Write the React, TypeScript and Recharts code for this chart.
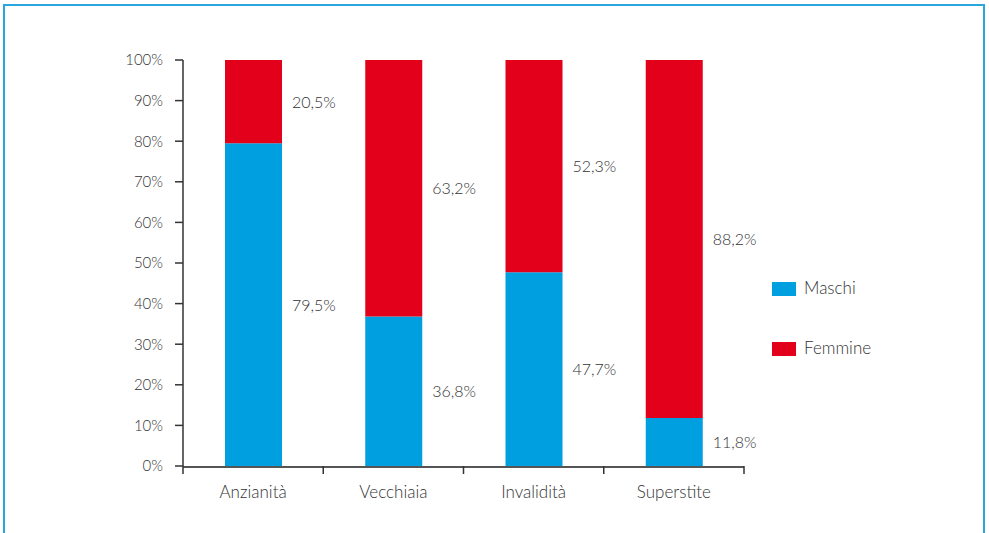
import React from "react";
import { BarChart, Bar, XAxis, YAxis, LabelList } from "recharts";

const categories = ["Anzianità", "Vecchiaia", "Invalidità", "Superstite"];
const maschi = [79.5, 36.8, 47.7, 11.8];
const femmine = [20.5, 63.2, 52.3, 88.2];
const yTicks = [0, 10, 20, 30, 40, 50, 60, 70, 80, 90, 100];
const bandEdges = [0, 1, 2, 3, 4];

const BLUE = "#009fe0";
const RED = "#e2001a";
const TEXT = "#333333";
const FONT = "Lato, 'Open Sans', sans-serif";
const WEIGHT = 300;

const data = categories.map((name, i) => ({
  name,
  idx: i + 0.5,
  maschi: maschi[i],
  femmine: femmine[i],
}));

const fmt = (v: number) => v.toFixed(1).replace(".", ",") + "%";

const SideLabel = (props: any) => {
  const { x, y, width, height, value } = props;
  return (
    <text
      x={x + width + 10}
      y={y + height / 2 + 6}
      fill={TEXT}
      fontSize={16}
      fontWeight={WEIGHT}
      fontFamily={FONT}
    >
      {fmt(value)}
    </text>
  );
};

const LegendBox = () => (
  <div style={{ fontFamily: FONT, fontSize: 17, fontWeight: WEIGHT, color: TEXT }}>
    {[
      { name: "Maschi", color: BLUE },
      { name: "Femmine", color: RED },
    ].map((it) => (
      <div key={it.name} style={{ display: "flex", alignItems: "center", height: 60 }}>
        <span style={{ width: 24, height: 14, background: it.color, display: "inline-block", marginRight: 8, marginTop: 3 }} />
        {it.name}
      </div>
    ))}
  </div>
);

export default function App() {
  return (
    <div style={{ position: "absolute", left: 0, top: 0, width: 989, height: 533, overflow: "hidden", background: "#fff" }}>
      <div
        style={{
          position: "absolute",
          left: 3,
          top: 4,
          width: 982,
          height: 600,
          border: "2px solid #2aa6de",
          boxSizing: "border-box",
        }}
      />
      <div style={{ position: "absolute", left: 772, top: 257 }}>
        <LegendBox />
      </div>
      <BarChart
        width={989}
        height={533}
        data={data}
        margin={{ top: 60, right: 245, bottom: 0, left: 0 }}
        barCategoryGap={0}
      >
        <XAxis
          xAxisId="b_cat"
          dataKey="name"
          height={66}
          tickLine={false}
          tickSize={0}
          tickMargin={19}
          axisLine={{ stroke: "#555", strokeWidth: 2 }}
          tick={{ fill: TEXT, fontSize: 17, fontWeight: WEIGHT, fontFamily: FONT }}
        />
        <XAxis
          xAxisId="a_edges"
          type="number"
          dataKey="idx"
          domain={[0, 4]}
          ticks={bandEdges}
          allowDataOverflow
          height={1}
          tick={{ fill: "none", fontSize: 1 }}
          tickFormatter={() => ""}
          axisLine={false}
          tickSize={8}
          tickLine={{ stroke: "#333", strokeWidth: 1.5 }}
        />
        <YAxis
          width={183}
          domain={[0, 100]}
          ticks={yTicks}
          interval={0}
          tickFormatter={(v: number) => `${v}%`}
          tickSize={8}
          tickMargin={12}
          axisLine={{ stroke: "#333", strokeWidth: 1.5 }}
          tickLine={{ stroke: "#333", strokeWidth: 1.5 }}
          tick={{ fill: TEXT, fontSize: 15, fontWeight: WEIGHT, fontFamily: FONT }}
        />
        <Bar xAxisId="b_cat" dataKey="maschi" stackId="a" fill={BLUE} barSize={57} isAnimationActive={false}>
          <LabelList dataKey="maschi" content={SideLabel} />
        </Bar>
        <Bar xAxisId="b_cat" dataKey="femmine" stackId="a" fill={RED} barSize={57} isAnimationActive={false}>
          <LabelList dataKey="femmine" content={SideLabel} />
        </Bar>
      </BarChart>
    </div>
  );
}
